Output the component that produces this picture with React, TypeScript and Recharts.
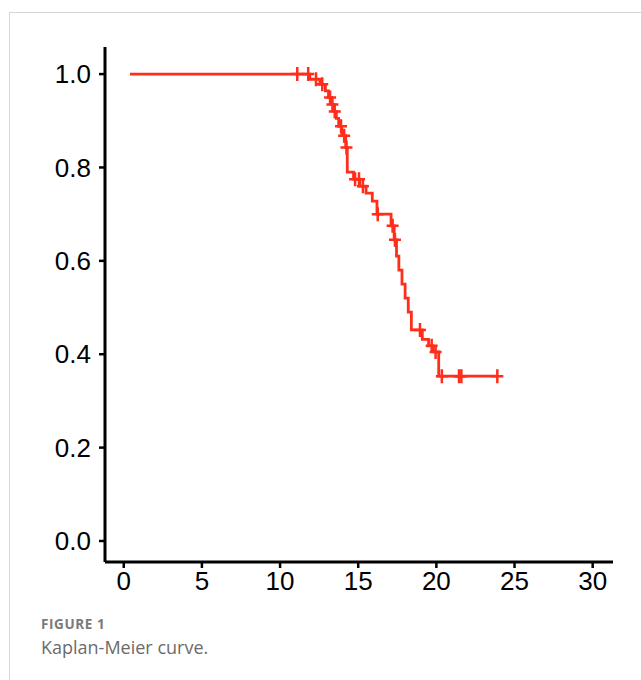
import React from "react";
import { ComposedChart, Line, Scatter, XAxis, YAxis } from "recharts";

// Kaplan-Meier step curve: event times and survival after each event
const stepTimes = [0.4, 11.9, 12.55, 12.9, 13.1, 13.3, 13.45, 13.6, 13.75, 13.95, 14.2, 14.3, 14.7, 15.1, 15.5, 15.9, 16.2, 17.1, 17.3, 17.45, 17.6, 17.8, 18.0, 18.2, 18.4, 19.1, 19.5, 19.8, 20.15, 23.9];
const stepSurvival = [1.0, 0.989, 0.978, 0.964, 0.95, 0.935, 0.92, 0.905, 0.888, 0.868, 0.843, 0.79, 0.775, 0.76, 0.745, 0.728, 0.7, 0.675, 0.645, 0.61, 0.58, 0.55, 0.52, 0.49, 0.452, 0.432, 0.418, 0.405, 0.353, 0.353];

// Censored observations
const censorTimes = [11.1, 11.8, 12.3, 12.7, 13.2, 13.35, 13.5, 13.9, 14.1, 14.25, 14.8, 15.05, 15.3, 16.25, 17.2, 17.35, 18.95, 19.7, 19.95, 20.35, 21.45, 21.6, 23.9];
const censorSurvival = [1.0, 1.0, 0.989, 0.978, 0.95, 0.935, 0.92, 0.888, 0.868, 0.843, 0.775, 0.775, 0.76, 0.7, 0.675, 0.645, 0.452, 0.418, 0.405, 0.353, 0.353, 0.353, 0.353];

const xTicks = [0, 5, 10, 15, 20, 25, 30];
const yTicks = [0, 0.2, 0.4, 0.6, 0.8, 1.0];

const RED = "#ff2d1a";

const lineData = stepTimes.map((t, i) => ({ t, s: stepSurvival[i] }));
const censorData = censorTimes.map((t, i) => ({ t, s: censorSurvival[i] }));

const Cross = (props: any) => {
  const { cx, cy } = props;
  if (cx == null || cy == null) return null;
  return (
    <path
      d={`M${cx - 6},${cy} L${cx + 6},${cy} M${cx},${cy - 7} L${cx},${cy + 7}`}
      stroke={RED}
      strokeWidth={2.5}
      fill="none"
    />
  );
};

const tickFont = { fill: "#000", fontSize: 26, fontFamily: "'Liberation Sans', Arial, sans-serif" };

export default function App() {
  return (
    <div style={{ position: "absolute", left: 0, top: 0, width: 641, height: 680, overflow: "hidden", background: "#fff" }}>
      <div
        style={{
          position: "absolute",
          left: 9,
          top: 12,
          width: 700,
          height: 700,
          border: "1px solid #d6d6d6",
        }}
      />
      <div style={{ position: "absolute", left: 0, top: 0 }}>
        <ComposedChart width={641} height={600} margin={{ top: 47, right: 28, left: 0, bottom: 0 }}>
          <XAxis
            dataKey="t"
            type="number"
            domain={[-1.2, 31.3]}
            ticks={xTicks}
            allowDataOverflow
            height={38}
            axisLine={{ stroke: "#000", strokeWidth: 3 }}
            tickLine={{ stroke: "#000", strokeWidth: 2.5 }}
            tickSize={6}
            tickMargin={4}
            tick={tickFont}
            interval={0}
          />
          <YAxis
            dataKey="s"
            type="number"
            domain={[-0.045, 1.058]}
            ticks={yTicks}
            allowDataOverflow
            width={105}
            axisLine={{ stroke: "#000", strokeWidth: 3 }}
            tickLine={{ stroke: "#000", strokeWidth: 2.5 }}
            tickSize={6}
            tickMargin={8}
            tick={tickFont}
            interval={0}
            tickFormatter={(v: number) => v.toFixed(1)}
          />
          <Line
            data={lineData}
            dataKey="s"
            type="stepAfter"
            stroke={RED}
            strokeWidth={2.8}
            dot={false}
            activeDot={false}
            isAnimationActive={false}
          />
          <Scatter data={censorData} dataKey="s" shape={Cross} isAnimationActive={false} />
        </ComposedChart>
      </div>
      <div
        style={{
          position: "absolute",
          left: 41,
          top: 615,
          fontFamily: "'Open Sans', Lato, sans-serif",
          fontSize: 13.5,
          fontWeight: 700,
          letterSpacing: 0.6,
          color: "#7a7a7a",
        }}
      >
        FIGURE 1
      </div>
      <div
        style={{
          position: "absolute",
          left: 41,
          top: 635,
          fontFamily: "'Open Sans', Lato, sans-serif",
          fontSize: 18,
          color: "#6b6b6b",
        }}
      >
        Kaplan-Meier curve.
      </div>
    </div>
  );
}
